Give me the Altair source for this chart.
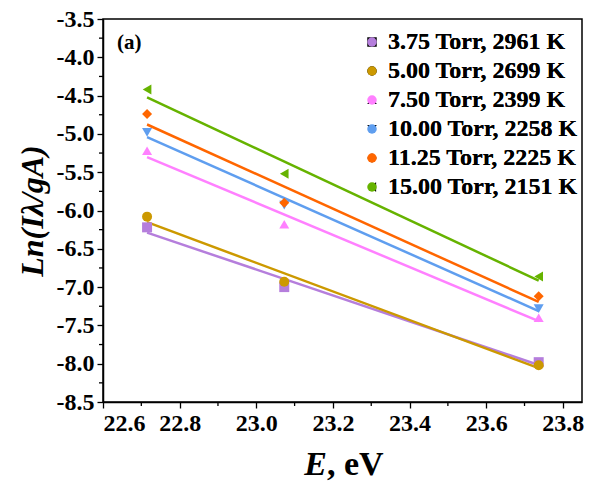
import altair as alt
import pandas as pd

# ---- data ----
energy = [22.715, 23.073, 23.737]
series = [
    "3.75 Torr, 2961 K",
    "5.00 Torr, 2699 K",
    "7.50 Torr, 2399 K",
    "10.00 Torr, 2258 K",
    "11.25 Torr, 2225 K",
    "15.00 Torr, 2151 K",
]
ln_375 = [-6.22, -7.00, -7.98]
ln_500 = [-6.08, -6.93, -8.02]
ln_750 = [-5.22, -6.18, -7.40]
ln_1000 = [-4.98, -5.93, -7.28]
ln_1125 = [-4.74, -5.90, -7.12]
ln_1500 = [-4.42, -5.52, -6.86]
all_values = [ln_375, ln_500, ln_750, ln_1000, ln_1125, ln_1500]

colors = ["#B57EDC", "#CC9900", "#FF80FF", "#5F9EEF", "#FF6600", "#66B300"]
shapes = ["square", "circle", "triangle-up", "triangle-down", "diamond", "triangle-left"]

x_major = [22.6, 22.8, 23.0, 23.2, 23.4, 23.6, 23.8]
x_minor = [22.7, 22.9, 23.1, 23.3, 23.5, 23.7]
y_major = [-3.5, -4.0, -4.5, -5.0, -5.5, -6.0, -6.5, -7.0, -7.5, -8.0, -8.5]
y_minor = [-3.75, -4.25, -4.75, -5.25, -5.75, -6.25, -6.75, -7.25, -7.75, -8.25]

rows = []
for s, vals in zip(series, all_values):
    for e, v in zip(energy, vals):
        rows.append({"series": s, "E": e, "lnI": v})
df = pd.DataFrame(rows)

FONT = "Liberation Serif"
HYPHEN_EXPR = "replace(format(datum.value, '.1f'), '\u2212', '-')"
W, H = 479, 383

x_scale = alt.Scale(domain=[22.6, 23.85], nice=False, zero=False)
y_scale = alt.Scale(domain=[-8.5, -3.5], nice=False, zero=False)

major_x = alt.Axis(values=x_major, labelExpr=HYPHEN_EXPR, tickSize=6, tickColor="black",
                   tickWidth=1.3, domainColor="black", domainWidth=1.5, grid=False,
                   labelFont=FONT, labelFontSize=24, labelFontWeight="bold",
                   labelColor="black", labelPadding=3, orient="bottom")
major_y = alt.Axis(values=y_major, labelExpr=HYPHEN_EXPR, tickSize=6, tickColor="black",
                   tickWidth=1.3, domainColor="black", domainWidth=1.5, grid=False,
                   labelFont=FONT, labelFontSize=24, labelFontWeight="bold",
                   labelColor="black", labelPadding=3, orient="left",
                   titleFont=FONT, titleFontSize=32, titleFontWeight="bold",
                   titleFontStyle="italic", titleColor="black", titlePadding=7)

X = alt.X("E:Q", scale=x_scale, axis=major_x, title=None)
Y = alt.Y("lnI:Q", scale=y_scale, axis=major_y, title="Ln(Iλ/gA)")

lines = alt.Chart(df).transform_regression(
    "E", "lnI", groupby=["series"], extent=[min(energy), max(energy)]
).mark_line(strokeWidth=2.5).encode(
    x=X, y=Y,
    color=alt.Color("series:N", scale=alt.Scale(domain=series, range=colors), legend=None),
    detail="series:N",
)

legend = alt.Legend(
    title=None, orient="none", legendX=257, legendY=11,
    labelFont=FONT, labelFontSize=24, labelFontWeight="bold", labelColor="black",
    labelLimit=400, symbolSize=90, rowPadding=5, labelOffset=4,
)

points = alt.Chart(df).mark_point(filled=True, size=100, opacity=1).encode(
    x=X, y=Y,
    color=alt.Color("series:N", scale=alt.Scale(domain=series, range=colors), legend=legend),
    shape=alt.Shape("series:N", scale=alt.Scale(domain=series, range=shapes), legend=legend),
)

# minor ticks drawn as short rules just outside the frame
minor_x_ticks = alt.Chart(pd.DataFrame({"E": x_minor})).mark_rule(
    color="black", strokeWidth=1.3
).encode(x=X, y=alt.value(H), y2=alt.value(H + 4))

minor_y_ticks = alt.Chart(pd.DataFrame({"lnI": y_minor})).mark_rule(
    color="black", strokeWidth=1.3
).encode(y=Y, x=alt.value(0), x2=alt.value(-4))

label = alt.Chart(pd.DataFrame({"t": ["(a)"]})).mark_text(
    font=FONT, fontSize=21, fontWeight="bold", color="black", align="left", baseline="middle"
).encode(x=alt.value(14), y=alt.value(24), text="t:N")

xt_e = alt.Chart(pd.DataFrame({"t": ["E"]})).mark_text(
    font=FONT, fontSize=34, fontWeight="bold", fontStyle="italic", color="black",
    align="right", baseline="alphabetic"
).encode(x=alt.value(224), y=alt.value(456), text="t:N")

xt_rest = alt.Chart(pd.DataFrame({"t": [", eV"]})).mark_text(
    font=FONT, fontSize=34, fontWeight="bold", color="black",
    align="left", baseline="alphabetic"
).encode(x=alt.value(224), y=alt.value(456), text="t:N")

chart = alt.layer(
    minor_x_ticks, minor_y_ticks, lines, points, label, xt_e, xt_rest
).resolve_scale(
    color="independent"
).properties(
    width=W, height=H,
    background="white",
    autosize=alt.AutoSizeParams(type="none"),
    padding={"left": 95, "top": 11, "right": 9, "bottom": 81},
).configure_view(
    stroke="black", strokeWidth=1.5
)

chart.save("out.html", embed_options={"renderer": "svg", "actions": False})
